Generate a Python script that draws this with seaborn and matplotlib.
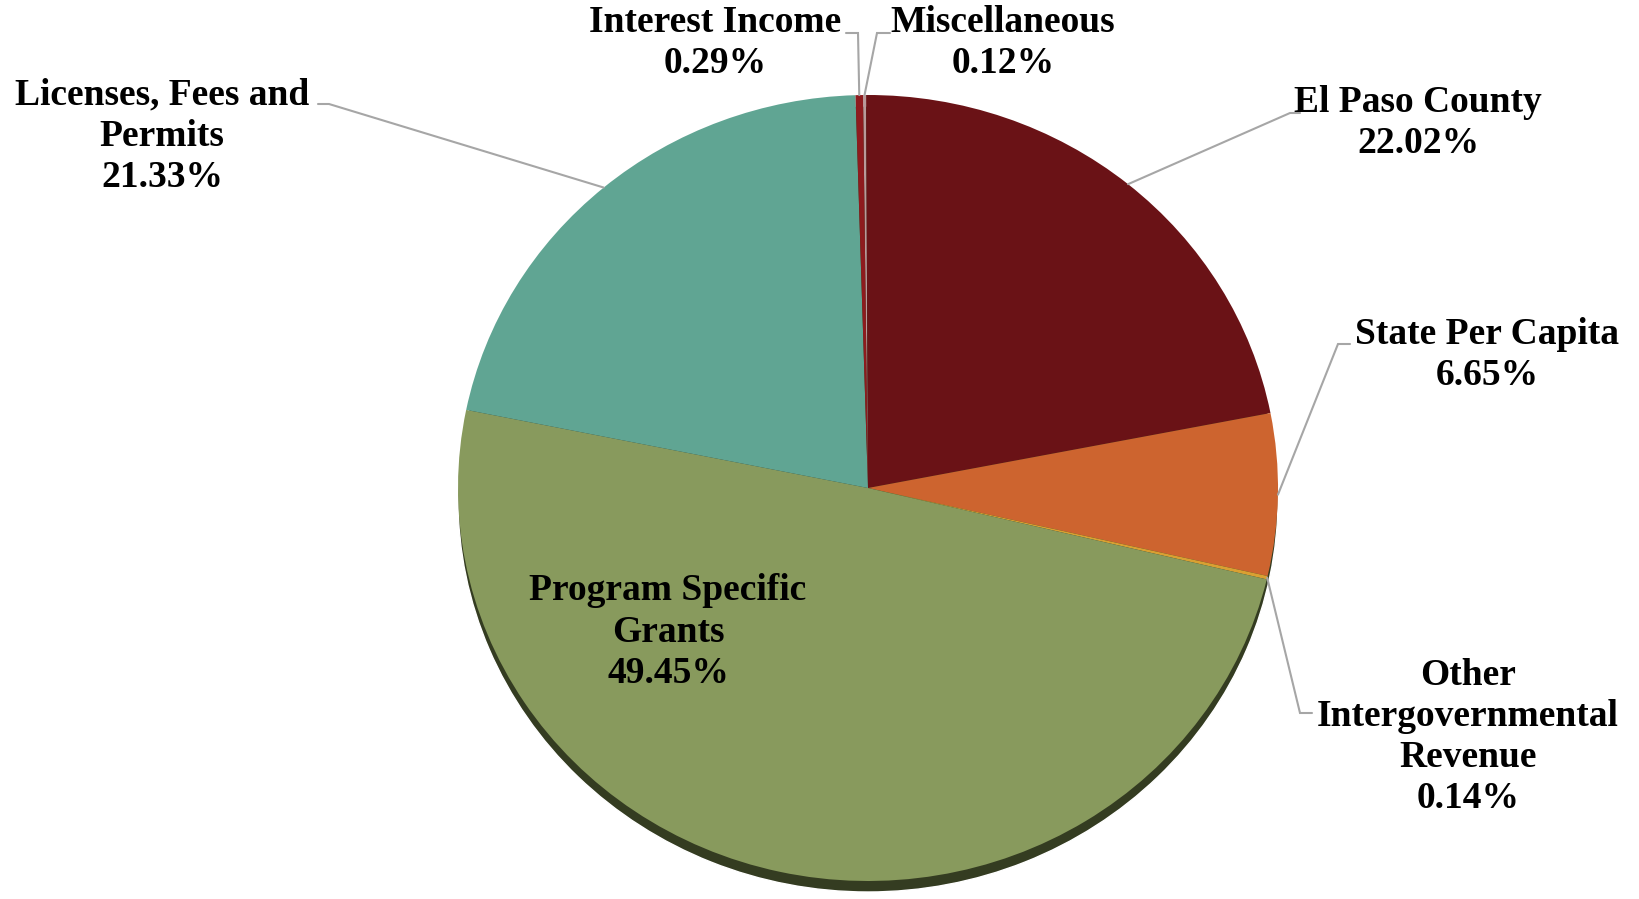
import numpy as np
import matplotlib
matplotlib.use("Agg")
import matplotlib.pyplot as plt
import seaborn as sns

# data, clockwise from 12 o'clock
categories = ["Miscellaneous", "El Paso County", "State Per Capita",
              "Other Intergovernmental Revenue", "Program Specific Grants",
              "Licenses, Fees and Permits", "Interest Income"]
shares = [0.12, 22.02, 6.65, 0.14, 49.45, 21.33, 0.29]
label_text = ["Miscellaneous", "El Paso County", "State Per Capita",
              "Other\nIntergovernmental\nRevenue", "Program Specific\nGrants",
              "Licenses, Fees and\nPermits", "Interest Income"]
colors = ["#B89A9A", "#6A1216", "#CD642F", "#D9A032", "#889A5D", "#60A593", "#8E1B1E"]

sns.set_theme(style="white")
plt.rcParams['font.family'] = ['Liberation Serif', 'DejaVu Serif']

W, H = 1639, 899
DPI = 100
fig = plt.figure(figsize=(W / DPI, H / DPI), dpi=DPI)

# pie geometry in pixels (from top)
cx, cy = 868, 488
rx, ry = 410, 393
sy = ry / rx  # vertical squash
start = 90.7

ax = fig.add_axes([0, 0, 1, 1])

# 3d-ish shadow under the pie
ax.pie([1], colors=["#343C21"], radius=rx, center=(cx, (H - cy - 11) / sy),
       frame=True)
wedges, _ = ax.pie(shares, colors=colors, radius=rx, center=(cx, (H - cy) / sy),
                   startangle=start, counterclock=False, frame=True,
                   wedgeprops=dict(linewidth=0))
ax.set_aspect("auto")
ax.set_xlim(0, W)
ax.set_ylim(0, H / sy)
ax.axis("off")

# overlay in pixel coords for labels
ov = fig.add_axes([0, 0, 1, 1])
ov.set_xlim(0, W)
ov.set_ylim(H, 0)
ov.axis("off")
ov.patch.set_alpha(0)

txt_pos = [(1003, 43), (1418, 123), (1487, 355), (1468, 737),
           (668, 632), (162, 136), (715, 43)]
leaders = [[(877, 33), (890, 33)], [(1290, 113), (1300, 113)],
           [(1338, 344), (1350, 344)], [(1300, 713), (1312, 713)],
           None, [(329, 104), (318, 104)], [(858, 33), (846, 33)]]

for w, lab, val, pos, ld in zip(wedges, label_text, shares, txt_pos, leaders):
    mid = np.deg2rad((w.theta1 + w.theta2) / 2)
    ax_pt = (cx + rx * np.cos(mid), cy - ry * np.sin(mid))
    ov.text(pos[0], pos[1], f"{lab}\n{val:.2f}%", ha="center", va="center",
            fontsize=27, fontweight="bold", color="black", linespacing=1.23)
    if ld is not None:
        xs = [ax_pt[0]] + [p[0] for p in ld]
        ys = [ax_pt[1]] + [p[1] for p in ld]
        ov.plot(xs, ys, color="#A6A6A6", lw=1.5, solid_joinstyle="miter")

fig.savefig("out.png", dpi=DPI)
